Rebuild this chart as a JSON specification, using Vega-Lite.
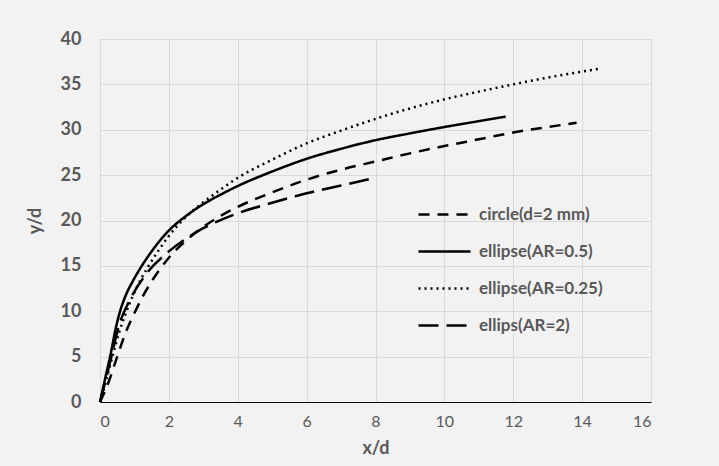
{
  "$schema": "https://vega.github.io/schema/vega-lite/v6.json",
  "autosize": {"type": "none"},
  "width": 551,
  "height": 363,
  "padding": {"left": 100, "top": 39, "right": 68, "bottom": 64},
  "background": "#f2f2f2",
  "config": {
    "view": {"stroke": null},
    "font": "Lato",
    "axis": {
      "gridColor": "#d9d9d9",
      "gridWidth": 1,
      "ticks": false,
      "tickSize": 0,
      "labelColor": "#595959",
      "titleColor": "#595959",
      "titleFont": "Lato",
      "labelFont": "Lato"
    }
  },
  "data": {
    "values": [
      {"s": "circle(d=2 mm)", "x": 0, "y": 0},
      {"s": "circle(d=2 mm)", "x": 0.25, "y": 2.2},
      {"s": "circle(d=2 mm)", "x": 0.5, "y": 5},
      {"s": "circle(d=2 mm)", "x": 0.75, "y": 7.7},
      {"s": "circle(d=2 mm)", "x": 1.0, "y": 9.8},
      {"s": "circle(d=2 mm)", "x": 1.25, "y": 11.7},
      {"s": "circle(d=2 mm)", "x": 1.5, "y": 13.3},
      {"s": "circle(d=2 mm)", "x": 2.0, "y": 15.9},
      {"s": "circle(d=2 mm)", "x": 2.5, "y": 17.8},
      {"s": "circle(d=2 mm)", "x": 3.0, "y": 19.3},
      {"s": "circle(d=2 mm)", "x": 3.5, "y": 20.5},
      {"s": "circle(d=2 mm)", "x": 4.0, "y": 21.5},
      {"s": "circle(d=2 mm)", "x": 5.0, "y": 23.1},
      {"s": "circle(d=2 mm)", "x": 6.0, "y": 24.5},
      {"s": "circle(d=2 mm)", "x": 7.0, "y": 25.6},
      {"s": "circle(d=2 mm)", "x": 8.0, "y": 26.5},
      {"s": "circle(d=2 mm)", "x": 9.0, "y": 27.4},
      {"s": "circle(d=2 mm)", "x": 10.0, "y": 28.2},
      {"s": "circle(d=2 mm)", "x": 11.0, "y": 28.95},
      {"s": "circle(d=2 mm)", "x": 12.0, "y": 29.7},
      {"s": "circle(d=2 mm)", "x": 13.0, "y": 30.3},
      {"s": "circle(d=2 mm)", "x": 13.84, "y": 30.76},

      {"s": "ellipse(AR=0.5)", "x": 0, "y": 0},
      {"s": "ellipse(AR=0.5)", "x": 0.15, "y": 2.6},
      {"s": "ellipse(AR=0.5)", "x": 0.31, "y": 5.3},
      {"s": "ellipse(AR=0.5)", "x": 0.45, "y": 8.0},
      {"s": "ellipse(AR=0.5)", "x": 0.56, "y": 9.7},
      {"s": "ellipse(AR=0.5)", "x": 0.68, "y": 11.1},
      {"s": "ellipse(AR=0.5)", "x": 0.8, "y": 12.2},
      {"s": "ellipse(AR=0.5)", "x": 0.95, "y": 13.3},
      {"s": "ellipse(AR=0.5)", "x": 1.18, "y": 14.8},
      {"s": "ellipse(AR=0.5)", "x": 1.5, "y": 16.6},
      {"s": "ellipse(AR=0.5)", "x": 2.0, "y": 18.9},
      {"s": "ellipse(AR=0.5)", "x": 2.5, "y": 20.5},
      {"s": "ellipse(AR=0.5)", "x": 3.0, "y": 21.8},
      {"s": "ellipse(AR=0.5)", "x": 3.5, "y": 22.85},
      {"s": "ellipse(AR=0.5)", "x": 4.0, "y": 23.8},
      {"s": "ellipse(AR=0.5)", "x": 5.0, "y": 25.4},
      {"s": "ellipse(AR=0.5)", "x": 6.0, "y": 26.8},
      {"s": "ellipse(AR=0.5)", "x": 7.0, "y": 27.9},
      {"s": "ellipse(AR=0.5)", "x": 8.0, "y": 28.85},
      {"s": "ellipse(AR=0.5)", "x": 9.0, "y": 29.6},
      {"s": "ellipse(AR=0.5)", "x": 10.0, "y": 30.3},
      {"s": "ellipse(AR=0.5)", "x": 11.0, "y": 30.95},
      {"s": "ellipse(AR=0.5)", "x": 11.78, "y": 31.45},

      {"s": "ellipse(AR=0.25)", "x": 0, "y": 0},
      {"s": "ellipse(AR=0.25)", "x": 0.18, "y": 2.4},
      {"s": "ellipse(AR=0.25)", "x": 0.36, "y": 5.0},
      {"s": "ellipse(AR=0.25)", "x": 0.55, "y": 7.6},
      {"s": "ellipse(AR=0.25)", "x": 0.76, "y": 9.9},
      {"s": "ellipse(AR=0.25)", "x": 1.05, "y": 12.5},
      {"s": "ellipse(AR=0.25)", "x": 1.38, "y": 14.8},
      {"s": "ellipse(AR=0.25)", "x": 1.7, "y": 16.7},
      {"s": "ellipse(AR=0.25)", "x": 2.0, "y": 18.3},
      {"s": "ellipse(AR=0.25)", "x": 2.5, "y": 20.4},
      {"s": "ellipse(AR=0.25)", "x": 3.0, "y": 22.0},
      {"s": "ellipse(AR=0.25)", "x": 3.5, "y": 23.4},
      {"s": "ellipse(AR=0.25)", "x": 4.0, "y": 24.7},
      {"s": "ellipse(AR=0.25)", "x": 5.0, "y": 26.7},
      {"s": "ellipse(AR=0.25)", "x": 6.0, "y": 28.5},
      {"s": "ellipse(AR=0.25)", "x": 7.0, "y": 29.9},
      {"s": "ellipse(AR=0.25)", "x": 8.0, "y": 31.2},
      {"s": "ellipse(AR=0.25)", "x": 9.0, "y": 32.35},
      {"s": "ellipse(AR=0.25)", "x": 10.0, "y": 33.35},
      {"s": "ellipse(AR=0.25)", "x": 11.0, "y": 34.2},
      {"s": "ellipse(AR=0.25)", "x": 12.0, "y": 35.0},
      {"s": "ellipse(AR=0.25)", "x": 13.0, "y": 35.75},
      {"s": "ellipse(AR=0.25)", "x": 14.0, "y": 36.4},
      {"s": "ellipse(AR=0.25)", "x": 14.54, "y": 36.75},

      {"s": "ellips(AR=2)", "x": 0, "y": 0},
      {"s": "ellips(AR=2)", "x": 0.17, "y": 2.5},
      {"s": "ellips(AR=2)", "x": 0.33, "y": 5.0},
      {"s": "ellips(AR=2)", "x": 0.55, "y": 8.4},
      {"s": "ellips(AR=2)", "x": 0.86, "y": 11.2},
      {"s": "ellips(AR=2)", "x": 1.3, "y": 13.9},
      {"s": "ellips(AR=2)", "x": 2.0, "y": 16.6},
      {"s": "ellips(AR=2)", "x": 2.5, "y": 18.0},
      {"s": "ellips(AR=2)", "x": 3.0, "y": 19.15},
      {"s": "ellips(AR=2)", "x": 3.5, "y": 20.05},
      {"s": "ellips(AR=2)", "x": 4.0, "y": 20.8},
      {"s": "ellips(AR=2)", "x": 5.0, "y": 21.95},
      {"s": "ellips(AR=2)", "x": 6.0, "y": 23.0},
      {"s": "ellips(AR=2)", "x": 7.0, "y": 23.85},
      {"s": "ellips(AR=2)", "x": 7.87, "y": 24.6}
    ]
  },
  "mark": {"type": "line", "color": "#000000", "strokeWidth": 2.5, "interpolate": "monotone"},
  "encoding": {
    "x": {
      "field": "x",
      "type": "quantitative",
      "scale": {"domain": [0, 16], "nice": false},
      "axis": {
        "values": [0, 2, 4, 6, 8, 10, 12, 14, 16],
        "title": "x/d",
        "titleFontSize": 18,
        "titleFontWeight": "bold",
        "titlePadding": 10,
        "labelFontSize": 16,
        "labelFontWeight": "normal",
        "labelPadding": 11,
        "domain": true,
        "domainColor": "#000000",
        "domainWidth": 1.2
      }
    },
    "y": {
      "field": "y",
      "type": "quantitative",
      "scale": {"domain": [0, 40], "nice": false},
      "axis": {
        "values": [0, 5, 10, 15, 20, 25, 30, 35, 40],
        "title": "y/d",
        "titleFontSize": 18,
        "titleFontWeight": "bold",
        "titlePadding": 16,
        "labelFontSize": 18,
        "labelFontWeight": "bold",
        "labelPadding": 19,
        "domain": false
      }
    },
    "strokeDash": {
      "field": "s",
      "type": "nominal",
      "scale": {
        "domain": ["circle(d=2 mm)", "ellipse(AR=0.5)", "ellipse(AR=0.25)", "ellips(AR=2)"],
        "range": [[11, 8], [1, 0], [2, 4], [20, 8]]
      },
      "legend": {
        "title": null,
        "orient": "none",
        "legendX": 317,
        "legendY": 148,
        "symbolType": "stroke",
        "symbolSize": 2704,
        "symbolStrokeWidth": 2.5,
        "symbolStrokeColor": "#000000",
        "labelFontSize": 17,
        "labelFontWeight": "bold",
        "labelColor": "#595959",
        "labelFont": "Lato",
        "labelOffset": 7,
        "rowPadding": 1
      }
    }
  }
}
